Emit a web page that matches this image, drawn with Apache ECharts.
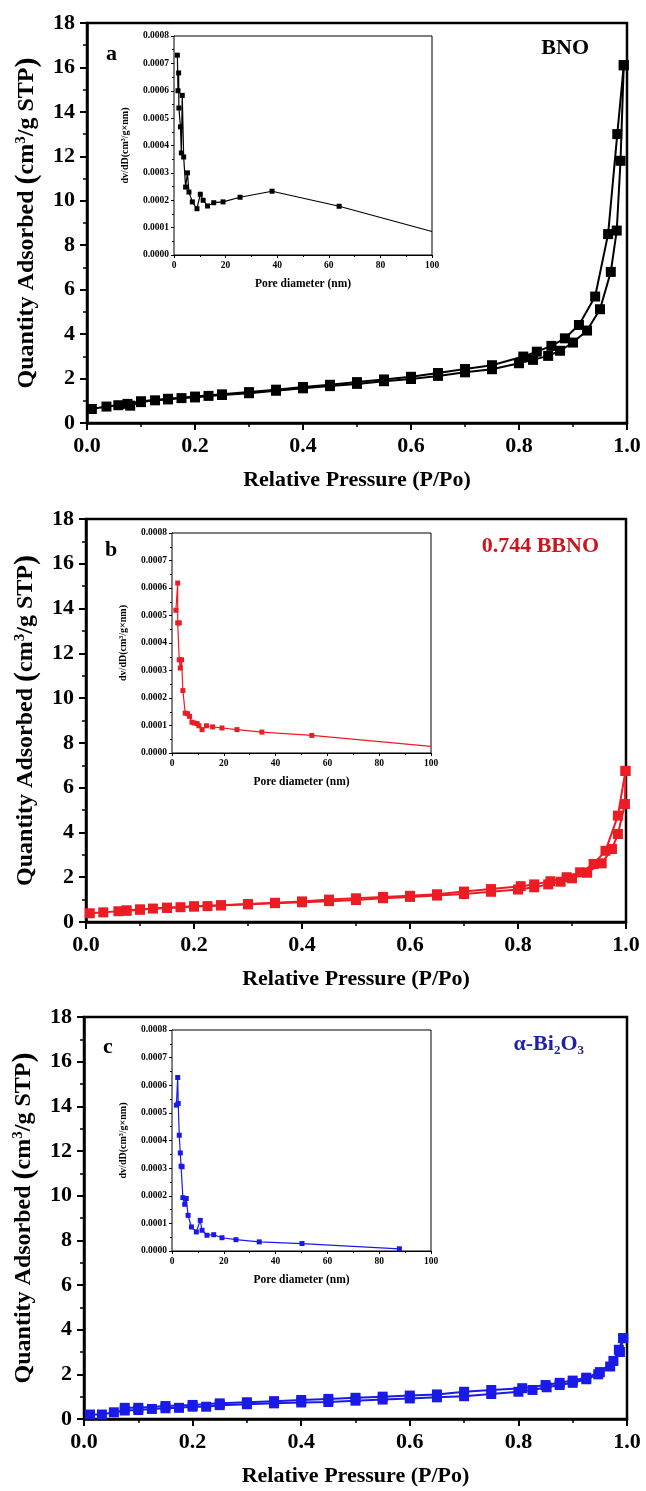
<!DOCTYPE html>
<html><head><meta charset="utf-8">
<script src="https://cdn.jsdelivr.net/npm/echarts@6/dist/echarts.min.js"></script>
<style>html,body{margin:0;padding:0;background:#fff}#c{width:646px;height:1491px}</style>
</head><body><div id="c"></div>
<script>
// ---------- data (P/Po, quantity adsorbed) ----------
const bnoAds = [[0.009,0.63],[0.036,0.74],[0.058,0.80],[0.08,0.78],[0.10,0.94],[0.126,1.02],[0.15,1.06],[0.175,1.12],[0.20,1.15],[0.225,1.22],[0.25,1.26],[0.30,1.34],[0.35,1.45],[0.40,1.56],[0.45,1.66],[0.50,1.76],[0.55,1.88],[0.60,1.98],[0.65,2.12],[0.70,2.28],[0.75,2.42],[0.80,2.69],[0.826,2.84],[0.854,3.02],[0.876,3.25],[0.90,3.62],[0.926,4.16],[0.95,5.12],[0.97,6.8],[0.981,8.66],[0.988,11.8],[0.994,16.1]];
const bnoDes = [[0.994,16.1],[0.982,13.0],[0.965,8.5],[0.941,5.69],[0.911,4.41],[0.885,3.81],[0.86,3.47],[0.833,3.21],[0.808,2.99],[0.75,2.6],[0.70,2.43],[0.65,2.25],[0.60,2.08],[0.55,1.96],[0.50,1.84],[0.45,1.72],[0.40,1.62],[0.35,1.50],[0.30,1.39],[0.25,1.29],[0.20,1.19],[0.15,1.09],[0.10,0.98],[0.075,0.86]];
const bbnoAds = [[0.007,0.39],[0.032,0.43],[0.06,0.48],[0.075,0.50],[0.10,0.55],[0.124,0.60],[0.15,0.63],[0.175,0.66],[0.20,0.69],[0.225,0.71],[0.25,0.74],[0.30,0.79],[0.35,0.84],[0.40,0.88],[0.45,0.93],[0.50,0.98],[0.55,1.06],[0.60,1.12],[0.65,1.18],[0.70,1.25],[0.75,1.35],[0.80,1.45],[0.83,1.55],[0.856,1.68],[0.879,1.80],[0.90,1.95],[0.928,2.20],[0.955,2.62],[0.974,3.26],[0.985,3.93],[0.998,5.27],[0.999,6.75]];
const bbnoDes = [[0.999,6.75],[0.985,4.75],[0.962,3.18],[0.94,2.59],[0.915,2.22],[0.89,2.0],[0.86,1.82],[0.83,1.68],[0.805,1.6],[0.75,1.47],[0.70,1.36],[0.65,1.24],[0.60,1.17],[0.55,1.12],[0.50,1.06],[0.45,1.0],[0.40,0.92],[0.35,0.86],[0.30,0.80],[0.25,0.75],[0.20,0.70],[0.15,0.64],[0.10,0.56],[0.075,0.52]];
const biAds = [[0.011,0.2],[0.033,0.2],[0.055,0.3],[0.075,0.38],[0.10,0.40],[0.125,0.45],[0.15,0.48],[0.175,0.5],[0.20,0.55],[0.225,0.55],[0.25,0.62],[0.30,0.66],[0.35,0.70],[0.40,0.74],[0.45,0.76],[0.50,0.82],[0.55,0.87],[0.60,0.92],[0.65,0.97],[0.70,1.02],[0.75,1.12],[0.80,1.22],[0.826,1.30],[0.852,1.42],[0.876,1.52],[0.90,1.62],[0.925,1.78],[0.947,2.0],[0.969,2.35],[0.987,3.0],[0.993,3.62]];
const biDes = [[0.993,3.62],[0.985,3.1],[0.975,2.6],[0.95,2.1],[0.925,1.85],[0.90,1.72],[0.876,1.62],[0.85,1.52],[0.807,1.38],[0.75,1.3],[0.70,1.22],[0.65,1.1],[0.60,1.05],[0.55,1.0],[0.50,0.95],[0.45,0.9],[0.40,0.85],[0.35,0.80],[0.30,0.75],[0.25,0.7],[0.20,0.63],[0.15,0.58],[0.10,0.5],[0.075,0.5]];
// ---------- inset data (pore diameter nm, dV/dD) ----------
const poreA = [[1.3,0.00073],[1.55,0.00060],[1.8,0.000665],[1.9,0.000537],[2.5,0.000468],[2.85,0.000373],[3.2,0.000583],[3.75,0.000358],[4.5,0.000248],[5.2,0.000300],[5.8,0.000230],[7.1,0.000194],[8.9,0.000169],[10.2,0.000222],[11.3,0.000200],[13,0.000179],[15.4,0.000191],[19,0.000194],[25.6,0.000211],[38,0.000233],[64,0.000178]];
const poreATail = [100,0.000086];
const poreB = [[1.5,0.000519],[2.2,0.000618],[2.2,0.000473],[2.8,0.000473],[2.8,0.000339],[3.2,0.000309],[3.7,0.000339],[4.2,0.000227],[5.1,0.000145],[6.0,0.000143],[6.8,0.000133],[7.7,0.000112],[8.6,0.000109],[9.7,0.000107],[10.4,0.000099],[11.6,0.000085],[13.3,0.000099],[15.7,0.000095],[19.3,0.000091],[25.1,0.000085],[34.7,0.000076],[54,0.000064]];
const poreBTail = [100,0.000024];
const poreC = [[1.7,0.000528],[2.2,0.000628],[2.4,0.000534],[2.8,0.000419],[3.2,0.000355],[3.5,0.000307],[3.9,0.000305],[4.2,0.000193],[4.9,0.000169],[5.5,0.000190],[6.2,0.000129],[7.5,0.000087],[9.4,0.000069],[10.9,0.000111],[11.6,0.000075],[13.5,0.000057],[16.1,0.000059],[19.3,0.000048],[24.7,0.000041],[33.7,0.000033],[50.2,0.000027],[87.8,0.000008]];
const mainYTicks = [0,18,2];
const mainXTicks = [0,1,0.2];
const insetXTicks = [0,100,20];
const insetYTicks = [0,0.0008,0.0001];
const panelLabels = ['a','b','c'];
const sampleNames = ['BNO','0.744 BBNO','α-Bi2O3'];

const SERIF = '"Liberation Serif","DejaVu Serif",serif';
const colors = [
  {mark:'#000000', text:'#000000'},
  {mark:'#ec1c24', text:'#c8171e'},
  {mark:'#1a1ae6', text:'#1f1fa8'}
];
const mainGrids = [
  {left:87, right:19, top:23, height:400},
  {left:86, right:20, top:519, height:403},
  {left:84, right:19, top:1017, height:402}
];
const insetGrids = [
  {left:174, width:258, top:36, height:219},
  {left:172, width:259, top:533, height:220},
  {left:172, width:259, top:1030, height:221}
];
const isoData = [[bnoAds,bnoDes],[bbnoAds,bbnoDes],[biAds,biDes]];
const poreData = [[poreA,poreATail],[poreB,poreBTail],[poreC,null]];

const grid=[], xAxis=[], yAxis=[], series=[], title=[];
for (let i=0;i<3;i++){
  grid.push(Object.assign({show:true, borderColor:'#000', borderWidth:2.5, backgroundColor:'transparent'}, mainGrids[i]));
  xAxis.push({type:'value', gridIndex:i, min:mainXTicks[0], max:mainXTicks[1], interval:mainXTicks[2],
    name:'Relative Pressure (P/Po)', nameLocation:'middle', nameGap:46,
    nameTextStyle:{fontFamily:SERIF, fontWeight:'bold', fontSize:22, color:'#000'},
    axisLine:{lineStyle:{color:'#000', width:2.5}},
    axisTick:{inside:false, length:7, lineStyle:{width:2, color:'#000'}},
    minorTick:{show:true, splitNumber:2, length:4, lineStyle:{width:1.5, color:'#000'}},
    splitLine:{show:false},
    axisLabel:{margin:12, fontFamily:SERIF, fontWeight:'bold', fontSize:22, color:'#000', formatter:v=>v.toFixed(1)}
  });
  yAxis.push({type:'value', gridIndex:i, min:mainYTicks[0], max:mainYTicks[1], interval:mainYTicks[2],
    name:'{t|Quantity Adsorbed }{p|(}{t|cm}{s|3}{t|/g STP}{p|)}', nameLocation:'middle', nameGap:44, nameRotate:90,
    nameTextStyle:{fontFamily:SERIF, fontWeight:'bold', fontSize:24, color:'#000',
      rich:{t:{fontFamily:SERIF, fontWeight:'bold', fontSize:24, color:'#000'},
            p:{fontFamily:SERIF, fontWeight:'bold', fontSize:30, color:'#000'},
            s:{fontFamily:SERIF, fontWeight:'bold', fontSize:15, color:'#000', padding:[0,0,12,0]}}},
    axisLine:{lineStyle:{color:'#000', width:2.5}},
    axisTick:{inside:false, length:7, lineStyle:{width:2, color:'#000'}},
    minorTick:{show:true, splitNumber:2, length:4, lineStyle:{width:1.5, color:'#000'}},
    splitLine:{show:false},
    axisLabel:{margin:12, fontFamily:SERIF, fontWeight:'bold', fontSize:22, color:'#000'}
  });
  const c = colors[i].mark;
  isoData[i].forEach(d=>{
    series.push({type:'line', xAxisIndex:i, yAxisIndex:i, data:d, symbol:'rect', symbolSize:[10,10],
      showAllSymbol:true, lineStyle:{color:c, width:2}, itemStyle:{color:c}, z:3, animation:false});
  });
}
for (let i=0;i<3;i++){
  const gi = 3+i;
  grid.push(Object.assign({show:true, borderColor:'#000', borderWidth:1, backgroundColor:'#fff', z:5}, insetGrids[i]));
  xAxis.push({type:'value', gridIndex:gi, min:insetXTicks[0], max:insetXTicks[1], interval:insetXTicks[2],
    name:'Pore diameter (nm)', nameLocation:'middle', nameGap:23,
    nameTextStyle:{fontFamily:SERIF, fontWeight:'bold', fontSize:11.5, color:'#000'},
    axisLine:{lineStyle:{color:'#000', width:1}},
    axisTick:{inside:false, length:3, lineStyle:{width:1, color:'#000'}},
    minorTick:{show:true, splitNumber:2, length:2, lineStyle:{width:1, color:'#000'}},
    splitLine:{show:false},
    axisLabel:{margin:6, fontFamily:SERIF, fontWeight:'bold', fontSize:9.5, color:'#000'}
  });
  yAxis.push({type:'value', gridIndex:gi, min:insetYTicks[0], max:insetYTicks[1], interval:insetYTicks[2],
    name:'dv/dD(cm³/g×nm)', nameLocation:'middle', nameGap:44, nameRotate:90,
    nameTextStyle:{fontFamily:SERIF, fontWeight:'bold', fontSize:10, color:'#000'},
    axisLine:{lineStyle:{color:'#000', width:1}},
    axisTick:{inside:false, length:3, lineStyle:{width:1, color:'#000'}},
    minorTick:{show:true, splitNumber:2, length:2, lineStyle:{width:1, color:'#000'}},
    splitLine:{show:false},
    axisLabel:{margin:5, fontFamily:SERIF, fontWeight:'bold', fontSize:9.5, color:'#000', formatter:v=>v.toFixed(4)}
  });
  const c = colors[i].mark;
  const pts = poreData[i][0].map(p=>({value:p}));
  if (poreData[i][1]) pts.push({value:poreData[i][1], symbol:'none'});
  series.push({type:'line', xAxisIndex:gi, yAxisIndex:gi, data:pts, symbol:'rect', symbolSize:[5,5], showAllSymbol:true,
    lineStyle:{color:c, width:1.2}, itemStyle:{color:c}, z:6, clip:true, animation:false});
}
// annotations
const labelTops = [38, 534, 1031];
const nameTops = [32, 530, 1027];
const nameRights = [52, 42, 57];
for (let i=0;i<3;i++){
  title.push({text:panelLabels[i], left:mainGrids[i].left+14, top:labelTops[i],
    textStyle:{fontFamily:SERIF, fontWeight:'bold', fontSize:22, color:'#000'}});
}
title.push({text:sampleNames[0], right:nameRights[0], top:nameTops[0], textStyle:{fontFamily:SERIF, fontWeight:'bold', fontSize:22, color:colors[0].text}});
title.push({text:sampleNames[1], right:nameRights[1], top:nameTops[1], textStyle:{fontFamily:SERIF, fontWeight:'bold', fontSize:22, color:colors[1].text}});
title.push({text:'{a|α-Bi}{s|2}{a|O}{s|3}', right:nameRights[2], top:nameTops[2], textStyle:{
  rich:{a:{fontFamily:SERIF, fontWeight:'bold', fontSize:22, color:colors[2].text},
        s:{fontFamily:SERIF, fontWeight:'bold', fontSize:13, color:colors[2].text, padding:[12,0,0,0]}}}});

const chart = echarts.init(document.getElementById('c'), null, {renderer:'canvas'});
chart.setOption({animation:false, backgroundColor:'#fff', grid, xAxis, yAxis, series, title});
</script></body></html>
